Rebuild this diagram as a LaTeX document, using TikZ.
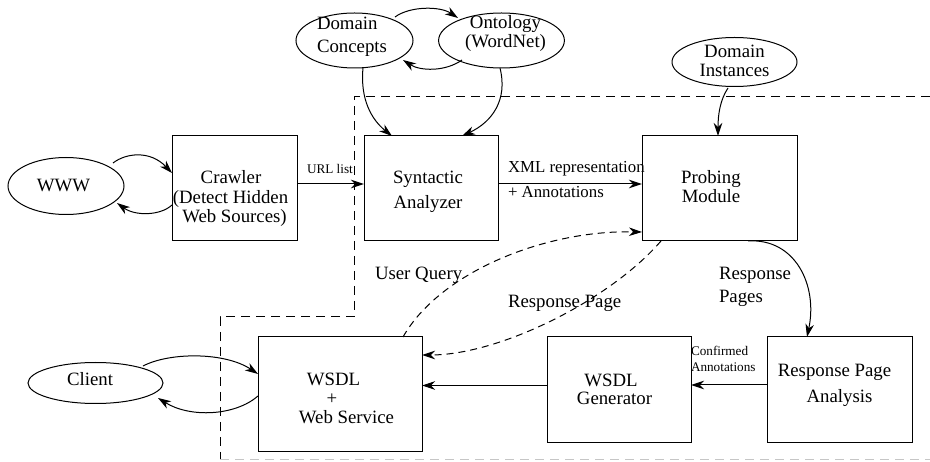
\documentclass[tikz,border=0pt]{standalone}
\usepackage{fontspec}
\setmainfont{Liberation Serif}
\usetikzlibrary{shapes.geometric,arrows.meta,calc}
\newcommand\mlc[1]{\begin{tabular}[t]{@{}c@{}}#1\end{tabular}}
\newcommand\mll[1]{\begin{tabular}[t]{@{}l@{}}#1\end{tabular}}
\begin{document}
\begin{tikzpicture}[x=1pt,y=-1pt,
  every node/.style={inner sep=0pt, outer sep=0pt},
  box/.style={draw, rectangle, line width=1pt, text height=0pt},
  oval/.style={draw, ellipse, line width=1pt, text height=0pt},
  lbl/.style={font=\fontsize{18.8}{19}\selectfont, anchor=base west},
  mid/.style={font=\fontsize{16.8}{25}\selectfont, anchor=base west},
  small/.style={font=\fontsize{13.2}{16}\selectfont, anchor=base west},
  arr/.style={line width=1pt, -{Stealth[length=13pt,width=8.5pt,inset=4pt]}},
  dasharr/.style={arr, dash pattern=on 7pt off 5pt},
  bound/.style={line width=1pt, dash pattern=on 9pt off 6pt},
]
\useasboundingbox (0,0) rectangle (930,462);

% boundary
\draw[bound] (930,97) -- (354,97) -- (354,317) -- (220,317) -- (220,460);
\draw[bound, gray!45] (220,460) -- (930,460);

% nodes
\node[oval, minimum width=116, minimum height=57, text height=12pt, text depth=0pt,
  font=\fontsize{18.8}{19}\selectfont] (www) at (66,186) {WWW\hspace*{5pt}};
\node[box, minimum width=125, minimum height=105, text depth=9pt,
  font=\fontsize{18.8}{19.5}\selectfont] (crawler) at (234.5,188.5)
  {\mlc{Crawler\hspace*{7pt}\\(Detect Hidden\hspace*{8pt}\\Web Sources)}};
\node[box, minimum width=134, minimum height=105, text depth=9pt,
  font=\fontsize{18.8}{25}\selectfont] (syn) at (431,188.5)
  {\mlc{Syntactic\hspace*{6pt}\\Analyzer\hspace*{6pt}}};
\node[box, minimum width=155, minimum height=105, text depth=9pt,
  font=\fontsize{18.8}{19}\selectfont] (probe) at (719.5,188.5)
  {\mlc{Probing\hspace*{17pt}\\Module\hspace*{17pt}}};
\node[oval, minimum width=117, minimum height=55, text depth=21pt,
  font=\fontsize{18.8}{23}\selectfont] (dc) at (354.5,40.5)
  {\mll{Domain\\Concepts\hspace*{5pt}}};
\node[oval, minimum width=117, minimum height=55, text depth=23pt,
  font=\fontsize{18.8}{19}\selectfont] (onto) at (501.5,40.5)
  {\mlc{\hspace*{8pt}Ontology\\\hspace*{8pt}(WordNet)}};
\node[oval, minimum width=125, minimum height=49, text depth=8pt,
  font=\fontsize{18.8}{19}\selectfont] (di) at (734.5,62)
  {\mlc{Domain\\Instances}};
\node[oval, minimum width=135, minimum height=41, text height=6pt, text depth=0pt,
  font=\fontsize{18.8}{19}\selectfont] (client) at (95.5,383)
  {Client\hspace*{11pt}};
\node[box, minimum width=164, minimum height=115, text depth=17pt,
  font=\fontsize{18.8}{18.5}\selectfont] (wsdl) at (340,394.5)
  {\mlc{WSDL\hspace*{13pt}\\+\hspace*{16pt}\\\hspace*{13pt}Web Service}};
\node[box, minimum width=144, minimum height=106, text depth=6pt,
  font=\fontsize{18.8}{18}\selectfont] (gen) at (619,390)
  {\mlc{WSDL\hspace*{16pt}\\Generator\hspace*{9pt}}};
\node[box, minimum width=145, minimum height=106, text depth=26pt,
  font=\fontsize{18.8}{26}\selectfont] (rpa) at (839.5,390)
  {\mlc{Response Page\hspace*{10pt}\\Analysis}};

% labels
\node[small] (urllbl) at (307,174) {URL list};
\node[mid] (xmllbl) at (508,173) {\mll{XML representation\\+ Annotations}};
\node[lbl] (uqlbl) at (375,280) {User Query};
\node[lbl] (rplbl) at (508,308) {Response Page};
\node[lbl, font=\fontsize{18.8}{23}\selectfont] (rpslbl) at (719,280) {\mll{Response\\Pages}};
\node[small] (calbl) at (691,356) {\mll{Confirmed\\Annotations}};

% connectors
\draw[arr] ($(www.center)+(47,-23)$) .. controls (126,153) and (150,150) .. ($(crawler.west)+(0,-15.5)$);
\draw[arr] ($(crawler.west)+(0,16.5)$) .. controls (160,216) and (135,216) .. ($(www.center)+(51,17)$);
\draw[arr] ($(crawler.east)+(0,-4.5)$) -- ($(syn.west)+(0,-4.5)$);
\draw[arr] ($(syn.east)+(0,-4.5)$) -- ($(probe.west)+(0,-4.5)$);
\draw[arr] ($(dc.center)+(40.5,-23.5)$) .. controls (410,6) and (440,6) .. ($(onto.center)+(-43.5,-22.5)$);
\draw[arr] ($(onto.center)+(-39.5,19.5)$) .. controls (445,72) and (420,71) .. ($(dc.center)+(48.5,19.5)$);
\draw[arr] ($(dc.center)+(8.5,27.5)$) .. controls (360,100) and (372,120) .. ($(syn.north)+(-39,0)$);
\draw[arr] ($(onto.center)+(-1.5,27.5)$) .. controls (508,100) and (492,122) .. ($(syn.north)+(31,0)$);
\draw[arr] ($(di.center)+(-6.5,26)$) .. controls (720,100) and (718,115) .. ($(probe.north)+(-1.5,0)$);
\draw[dasharr] ($(wsdl.north)+(63,0)$) .. controls (440,272) and (545,230) .. ($(probe.west)+(0,43.5)$);
\draw[dasharr] ($(probe.south)+(-58.5,0)$) .. controls (610,300) and (500,355) .. ($(wsdl.east)+(0,-39.5)$);
\draw[arr] ($(probe.south)+(28.5,0)$) .. controls (795,238) and (818,285) .. ($(rpa.north)+(-32.5,0)$);
\draw[arr] ($(rpa.west)+(0,-5)$) -- ($(gen.east)+(0,-5)$);
\draw[arr] ($(gen.west)+(0,-4.5)$) -- ($(wsdl.east)+(0,-9)$);
\draw[arr] ($(client.center)+(47.5,-17)$) .. controls (170,352) and (225,352) .. ($(wsdl.west)+(0,-20.5)$);
\draw[arr] ($(wsdl.west)+(0,1.5)$) .. controls (235,416) and (190,418) .. ($(client.center)+(62.5,15)$);
\end{tikzpicture}
\end{document}
